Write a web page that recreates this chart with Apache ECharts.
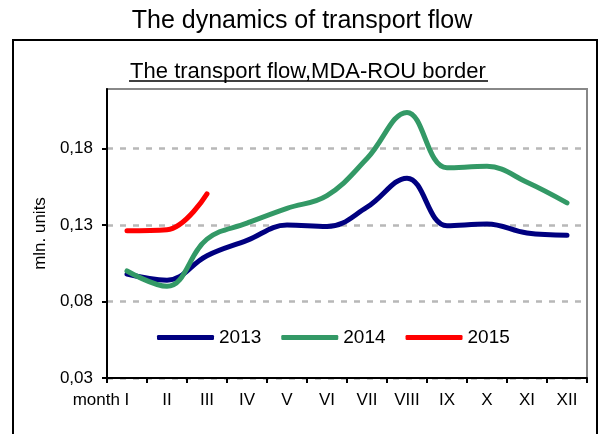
<!DOCTYPE html>
<html lang="en">
  <head>
    <meta charset="UTF-8" />
    <title>Transport flow</title>
    <style type="text/css">
      body {
        margin: 0;
        background-color: #fff;
      }

      #main {
        width: 604px;
        height: 434px;
      }
    </style>
  </head>
  <body>
    <div id="main"></div>
    <script src="https://cdn.jsdelivr.net/npm/echarts@6/dist/echarts.min.js"></script>
    <script type="text/javascript">
      // data
      var months = ["I", "II", "III", "IV", "V", "VI", "VII", "VIII", "IX", "X", "XI", "XII"];
      var monthPrefix = "month";
      var flow2013 = [0.098, 0.094, 0.110, 0.120, 0.130, 0.129, 0.1417, 0.1607, 0.1296, 0.1307, 0.1248, 0.1234];
      var flow2014 = [0.100, 0.090, 0.1208, 0.1313, 0.141, 0.1493, 0.1735, 0.2037, 0.1675, 0.1684, 0.158, 0.1445];
      var flow2015 = [0.1263, 0.127, 0.1504];
      var yTicks = [0.03, 0.08, 0.13, 0.18];

      var chartDom = document.getElementById("main");
      var myChart = echarts.init(chartDom, null, { renderer: "canvas" });
      var font = "Liberation Sans, Arial, sans-serif";

      function lineSeries(name, data, color) {
        return {
          name: name,
          type: "line",
          data: data,
          smooth: 0.4,
          symbol: "none",
          lineStyle: { color: color, width: 5, cap: "round" },
          itemStyle: { color: color },
        };
      }

      var option = {
        backgroundColor: "#fff",
        textStyle: { fontFamily: font },
        title: [
          {
            text: "The dynamics of transport flow",
            left: "center",
            top: 7,
            padding: 0,
            textStyle: { fontFamily: font, fontSize: 25, fontWeight: "normal", color: "#000", lineHeight: 28 },
          },
          {
            text: "The transport flow,MDA-ROU border",
            left: 308,
            textAlign: "center",
            top: 59,
            padding: 0,
            textStyle: { fontFamily: font, fontSize: 22, fontWeight: "normal", color: "#000", lineHeight: 26 },
          },
        ],
        graphic: [
          {
            type: "rect",
            shape: { x: 13, y: 40, width: 584, height: 420 },
            style: { fill: "none", stroke: "#000", lineWidth: 2 },
            silent: true,
          },
          {
            type: "line",
            shape: { x1: 129, y1: 81, x2: 488, y2: 81 },
            style: { stroke: "#000", lineWidth: 1.5 },
            silent: true,
          },
        ],
        legend: {
          left: 157,
          top: 328,
          padding: 0,
          icon: "roundRect",
          itemWidth: 57,
          itemHeight: 5,
          itemGap: 20,
          textStyle: { fontFamily: font, fontSize: 19, color: "#000" },
          data: ["2013", "2014", "2015"],
        },
        grid: {
          left: 107,
          right: 17,
          top: 89,
          bottom: 56,
          show: true,
          borderColor: "#888",
          borderWidth: 2,
          backgroundColor: "#fff",
        },
        xAxis: {
          type: "category",
          data: months,
          boundaryGap: true,
          axisLine: { lineStyle: { color: "#000", width: 2 } },
          axisTick: { show: true, length: 5, lineStyle: { color: "#000", width: 2 } },
          axisLabel: {
            margin: 14,
            interval: 0,
            color: "#000",
            fontSize: 17,
            fontFamily: font,
            formatter: function (v, i) {
              if (i === 0) return "{m|" + monthPrefix + " }{c|" + v + "}{p|}";
              return v;
            },
            rich: {
              m: { fontSize: 17, fontFamily: font, color: "#000" },
              c: { fontSize: 17, fontFamily: font, color: "#000" },
              p: { width: 52 },
            },
          },
        },
        yAxis: {
          type: "value",
          min: 0.03,
          max: 0.219,
          interval: 0.05,
          name: "mln. units",
          nameLocation: "middle",
          nameGap: 52,
          nameTextStyle: { fontFamily: font, fontSize: 17, color: "#000" },
          axisLine: { show: true, lineStyle: { color: "#000", width: 2 } },
          axisTick: {
            show: true,
            length: 5,
            customValues: yTicks,
            lineStyle: { color: "#000", width: 2 },
          },
          axisLabel: {
            margin: 14,
            color: "#000",
            fontSize: 17,
            fontFamily: font,
            customValues: yTicks,
            formatter: function (v) {
              return v.toFixed(2).replace(".", ",");
            },
          },
          splitLine: {
            show: true,
            lineStyle: { color: "#b8b8b8", width: 2.5, type: [6, 7] },
          },
        },
        series: [
          lineSeries("2013", flow2013, "#000080"),
          lineSeries("2014", flow2014, "#339966"),
          lineSeries("2015", flow2015, "#ff0000"),
        ],
      };

      myChart.setOption(option);
    </script>
  </body>
</html>
